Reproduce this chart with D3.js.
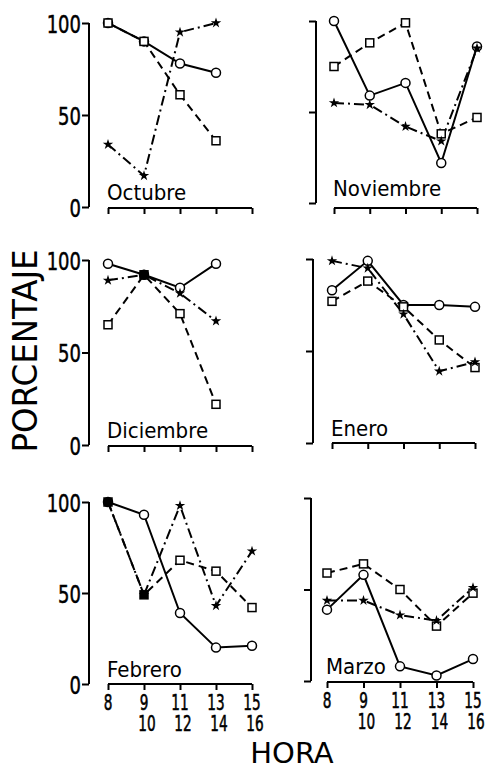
<!DOCTYPE html>
<html>
<head>
<meta charset="utf-8">
<script src="https://cdn.jsdelivr.net/npm/d3@7"></script>
<style>
  body { margin: 0; background: #fff; }
  text { font-family: "DejaVu Sans", sans-serif; fill: #000; }
</style>
</head>
<body>
<div id="container"></div>
<script>
const width = 486;
const height = 769;

// data
const hours = ["8", "9-10", "11-12", "13-14", "15-16"];
const tickTop = ["8", "9", "11", "13", "15"];
const tickBottom = ["", "10", "12", "14", "16"];
const yTicks = [0, 50, 100];
const months = ["Octubre", "Noviembre", "Diciembre", "Enero", "Febrero", "Marzo"];
const circleValues = [
  [100, 90, 78, 73],
  [100, 59, 66, 22, 86],
  [98, 92, 85, 98],
  [83, 99, 75, 75, 74],
  [100, 93, 39, 20, 21],
  [39, 58, 8, 3, 12]
];
const squareValues = [
  [100, 90, 61, 36],
  [75, 88, 99, 38, 47],
  [65, 92, 71, 22],
  [77, 88, 74, 56, 41],
  [100, 49, 68, 62, 42],
  [59, 64, 50, 30, 48]
];
const starValues = [
  [34, 17, 95, 100],
  [55, 54, 42, 34, 85],
  [89, 92, 82, 67],
  [99, 95, 70, 39, 44],
  [100, 49, 98, 43, 73],
  [44, 44, 36, 33, 51]
];

// panel placement (scanned figure is slightly skewed, so each panel has its own)
const layout = [
  { ax: 89,  x0: 108, x1: 252, y0: 207, y100: 23,  xAxisY: 208, labels: true },
  { ax: 316, x0: 334, x1: 477, y0: 203, y100: 21,  xAxisY: 208, labels: false },
  { ax: 89,  x0: 108, x1: 252, y0: 445, y100: 260, xAxisY: 446, labels: true },
  { ax: 313, x0: 332, x1: 475, y0: 443, y100: 259, xAxisY: 443, labels: false },
  { ax: 89,  x0: 108, x1: 252, y0: 684, y100: 502, xAxisY: 684, labels: true },
  { ax: 311, x0: 327, x1: 473, y0: 681, y100: 498, xAxisY: 682, labels: false }
];

const svg = d3.select("#container")
  .append("svg")
  .attr("width", width)
  .attr("height", height);

// squeeze text to look like the narrow lettering of the original
function squeeze(sel, k) {
  sel.each(function () {
    const w = this.getComputedTextLength();
    if (w > 0) d3.select(this).attr("textLength", w * k).attr("lengthAdjust", "spacingAndGlyphs");
  });
}

const star = d3.symbol().type(d3.symbolStar).size(34);

months.forEach((m, i) => {
  const L = layout[i];
  const g = svg.append("g");
  const x = d3.scalePoint().domain(hours).range([L.x0, L.x1]);
  const y = d3.scaleLinear().domain([0, 100]).range([L.y0, L.y100]);
  const isBottom = i >= 4;

  // y axis
  const yAxis = g.append("g")
    .attr("transform", `translate(${L.ax},0)`)
    .call(d3.axisLeft(y).tickValues(yTicks).tickSize(7).tickPadding(1)
      .tickFormat(L.labels ? d3.format("d") : () => ""));
  yAxis.select(".domain").attr("d", `M0,${y(100)}V${y(0)}`);
  yAxis.selectAll("path, line").attr("stroke", "#000").attr("stroke-width", 2);
  yAxis.selectAll("text").attr("font-size", 25).attr("font-family", "DejaVu Sans")
    .attr("stroke", "#000").attr("stroke-width", 0.5)
    .attr("dy", "0.36em").call(squeeze, 0.72);

  // x axis
  const xAxis = g.append("g")
    .attr("transform", `translate(0,${L.xAxisY})`)
    .call(d3.axisBottom(x).tickSize(6).tickFormat(() => ""));
  xAxis.select(".domain").attr("d", `M${L.x0},0H${L.x1}`);
  xAxis.selectAll("path, line").attr("stroke", "#000").attr("stroke-width", 2);

  if (isBottom) {
    g.selectAll(".t1").data(tickTop).enter().append("text")
      .attr("x", (d, j) => x(hours[j]))
      .attr("y", L.xAxisY + 26)
      .attr("text-anchor", "middle")
      .attr("font-size", 22)
      .attr("stroke", "#000").attr("stroke-width", 0.6)
      .text(d => d)
      .call(squeeze, 0.62);
    g.selectAll(".t2").data(tickBottom).enter().append("text")
      .attr("x", (d, j) => x(hours[j]) + 3)
      .attr("y", L.xAxisY + 47)
      .attr("text-anchor", "middle")
      .attr("font-size", 22)
      .attr("stroke", "#000").attr("stroke-width", 0.6)
      .text(d => d)
      .call(squeeze, 0.62);
  }

  // month label
  g.append("text")
    .attr("x", L.x0 - 1)
    .attr("y", L.y0 - 7)
    .attr("font-size", 22)
    .text(m)
    .call(squeeze, 0.9);

  const pts = vals => vals.map((v, j) => [x(hours[j]), y(v)]);
  const line = d3.line();

  g.append("path").attr("d", line(pts(squareValues[i])))
    .attr("fill", "none").attr("stroke", "#000").attr("stroke-width", 2)
    .attr("stroke-dasharray", "8,5");
  g.append("path").attr("d", line(pts(starValues[i])))
    .attr("fill", "none").attr("stroke", "#000").attr("stroke-width", 2)
    .attr("stroke-dasharray", "10,4,2,4");
  g.append("path").attr("d", line(pts(circleValues[i])))
    .attr("fill", "none").attr("stroke", "#000").attr("stroke-width", 2);

  g.selectAll(".c").data(circleValues[i]).enter().append("circle")
    .attr("cx", (d, j) => x(hours[j]))
    .attr("cy", d => y(d))
    .attr("r", 4.5)
    .attr("fill", "#fff").attr("stroke", "#000").attr("stroke-width", 1.5);

  g.selectAll(".s").data(squareValues[i]).enter().append("rect")
    .attr("x", (d, j) => x(hours[j]) - 4)
    .attr("y", d => y(d) - 4)
    .attr("width", 8).attr("height", 8)
    .attr("fill", (d, j) => d === starValues[i][j] ? "#000" : "#fff")
    .attr("stroke", "#000").attr("stroke-width", 1.5);

  g.selectAll(".st").data(starValues[i]).enter().append("path")
    .attr("d", star)
    .attr("transform", (d, j) => `translate(${x(hours[j])},${y(d)})`)
    .attr("fill", "#000");
});

// axis titles
svg.append("text")
  .attr("transform", "translate(37,351) rotate(-90)")
  .attr("text-anchor", "middle")
  .attr("font-size", 34)
  .attr("textLength", 203)
  .attr("lengthAdjust", "spacingAndGlyphs")
  .text("PORCENTAJE");

svg.append("text")
  .attr("x", 292)
  .attr("y", 763)
  .attr("text-anchor", "middle")
  .attr("font-size", 29)
  .text("HORA");
</script>
</body>
</html>
